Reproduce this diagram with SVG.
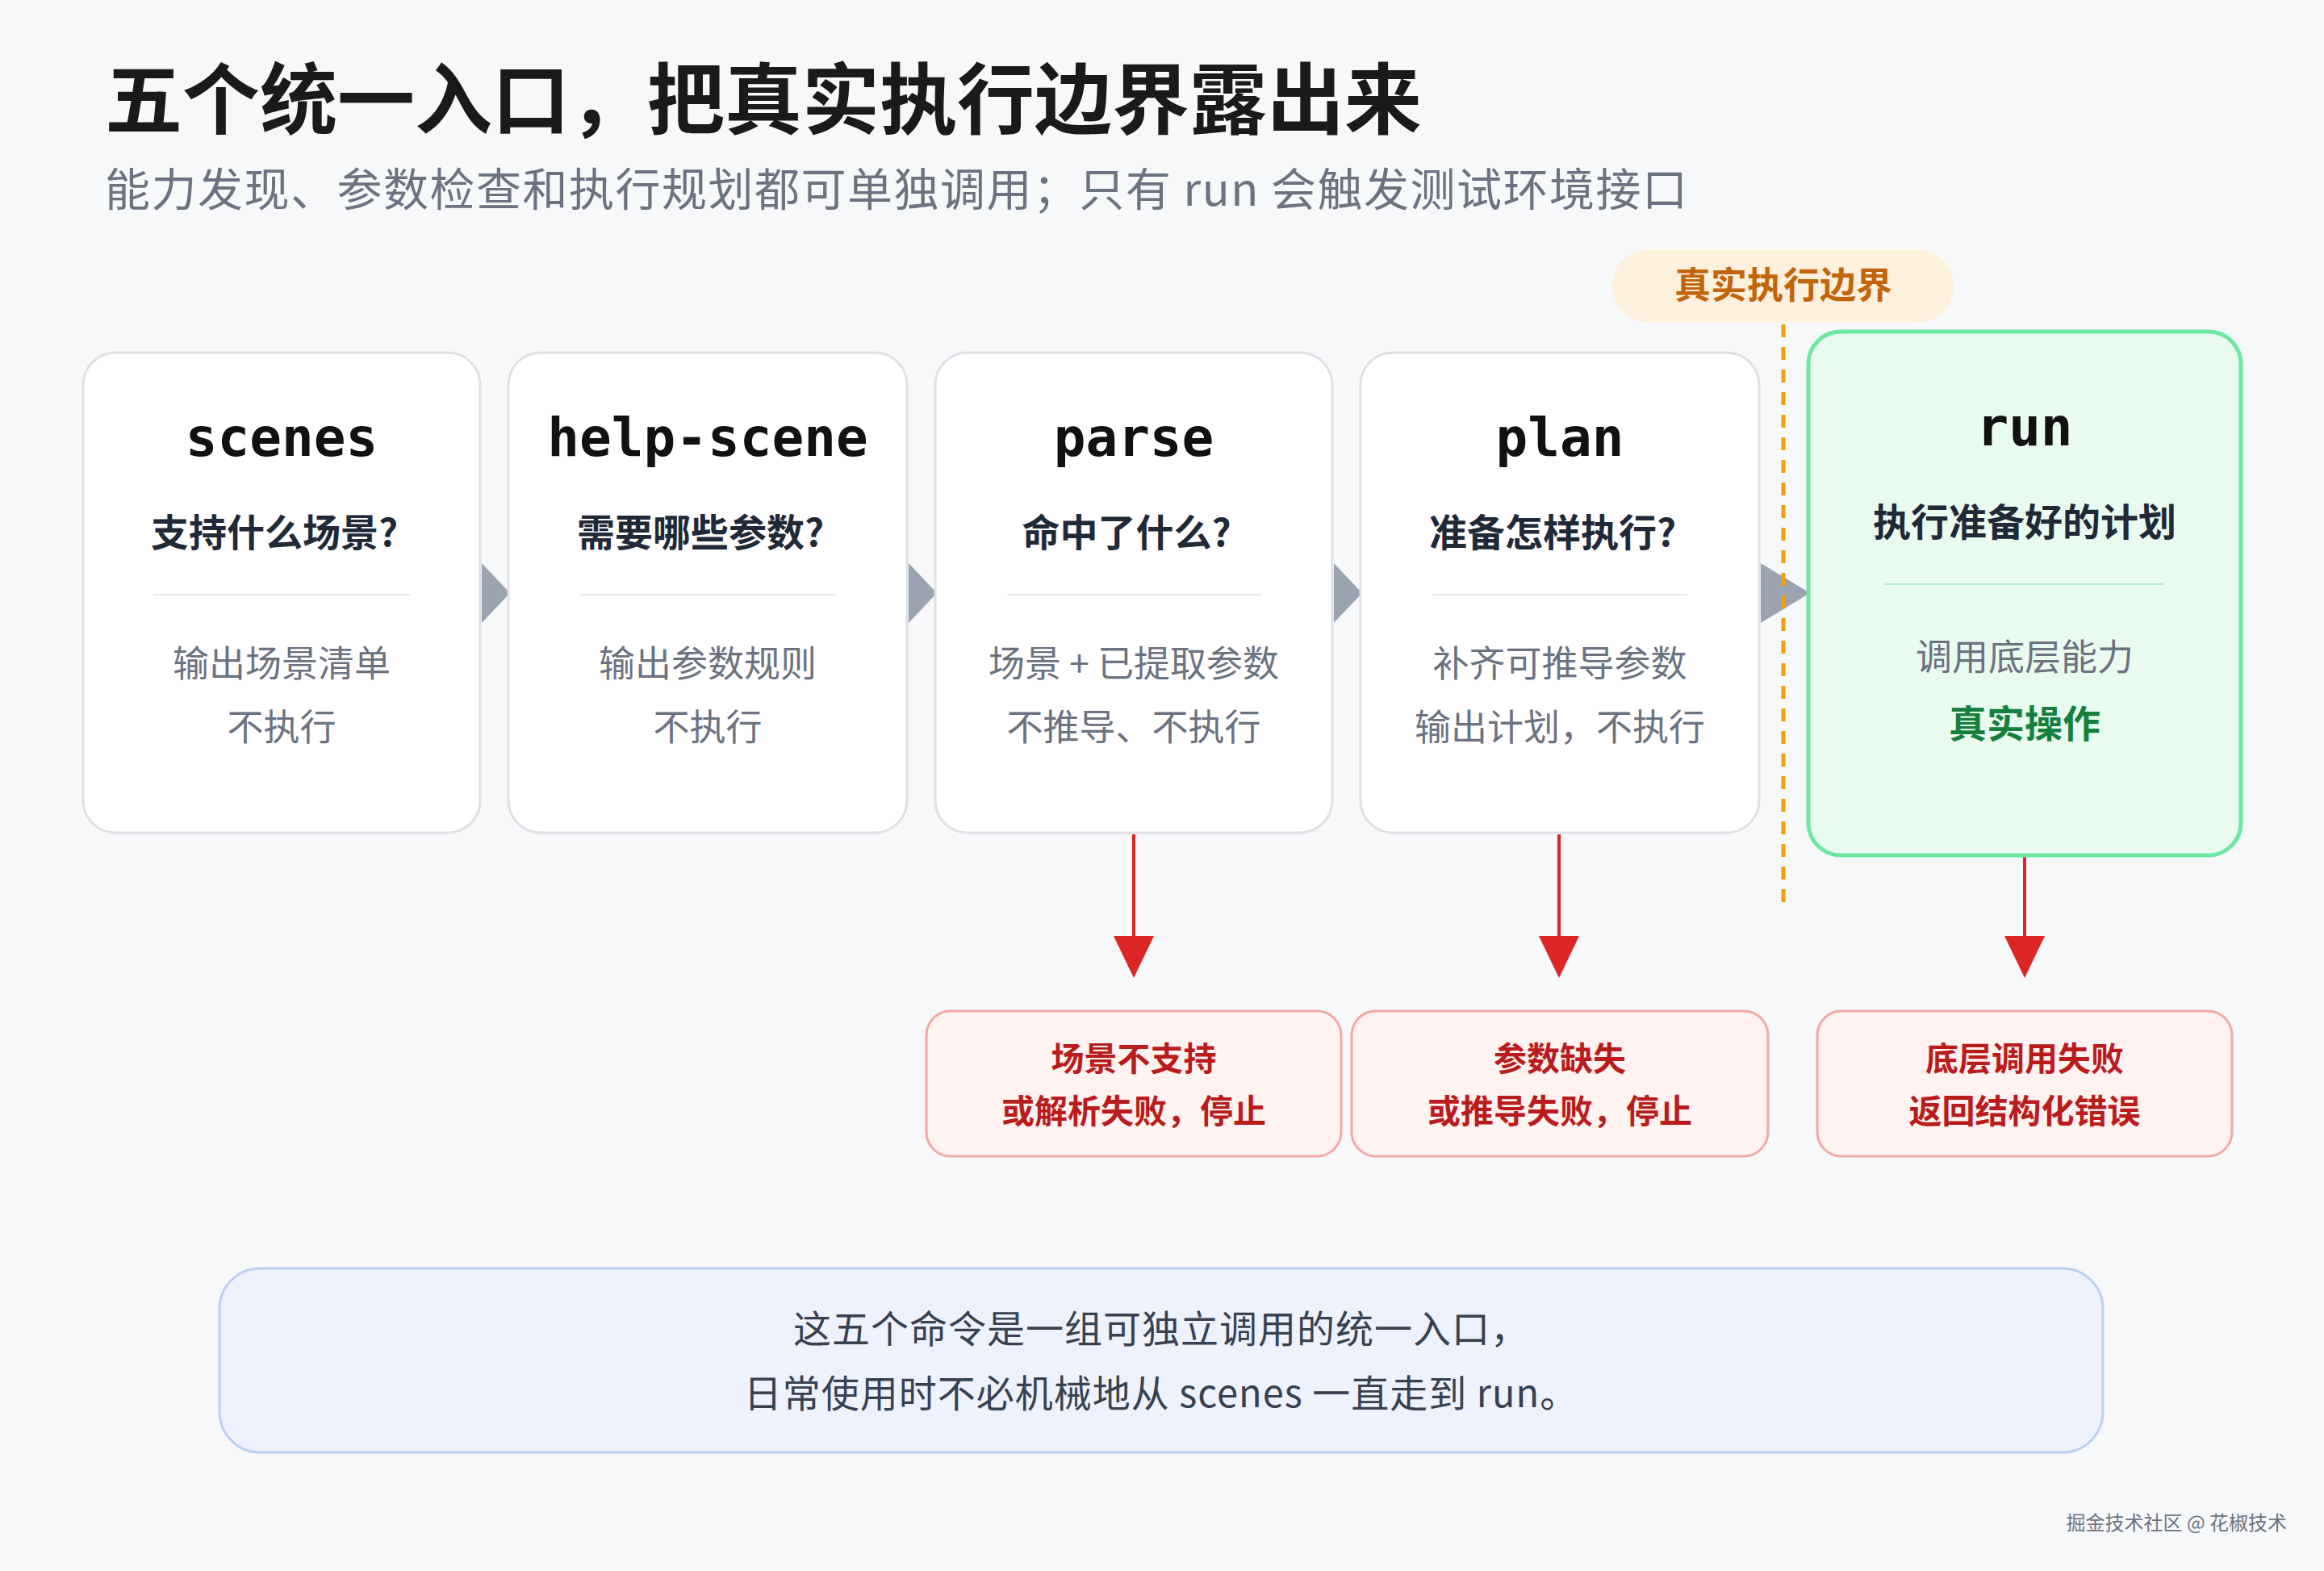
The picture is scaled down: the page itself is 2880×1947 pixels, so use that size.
<svg xmlns="http://www.w3.org/2000/svg" width="2880" height="1947" viewBox="0 0 2880 1947">
<defs>
<style>
.t{font-family:"Noto Sans CJK SC","Noto Sans",sans-serif}
.card{fill:#fff;stroke:#dde0e5;stroke-width:3}
.cmd{font-family:"DejaVu Sans Mono","Liberation Mono",monospace;font-weight:bold;font-size:66px;fill:#111;text-anchor:middle}
.q{font-family:"Noto Sans CJK SC",sans-serif;font-weight:bold;font-size:47px;fill:#1f2937;text-anchor:middle}
.g{fill:#15803d}
.d{font-family:"Noto Sans CJK SC",sans-serif;font-size:45px;fill:#6b7280;text-anchor:middle}
.div{stroke:#e5e7eb;stroke-width:2}
.err{fill:#fff3f2;stroke:#f3a9a3;stroke-width:3}
.et{font-family:"Noto Sans CJK SC",sans-serif;font-weight:bold;font-size:41px;fill:#b91c1c;text-anchor:middle}
.ra{stroke:#dc2626;stroke-width:4;fill:none}
</style>
</defs>
<rect width="2880" height="1947" fill="#f7f8fa"/>
<text class="t" x="130" y="158" font-size="96" font-weight="bold" fill="#1a1a1a">五个统一入口，把真实执行边界露出来</text>
<text class="t" x="130" y="255" font-size="56" letter-spacing="1.5" fill="#6b7280">能力发现、参数检查和执行规划都可单独调用；只有 run 会触发测试环境接口</text>

<g id="connectors">
<path d="M597,698L632,735L597,772z" fill="#9aa3b0"/>
<path d="M1126,698L1161,735L1126,772z" fill="#9aa3b0"/>
<path d="M1653,698L1688,735L1653,772z" fill="#9aa3b0"/>
<path d="M2182,698L2243,735L2182,772z" fill="#9aa3b0"/>
<line x1="2210" y1="402" x2="2210" y2="1120" stroke="#f59e0b" stroke-width="5" stroke-dasharray="16,12"/>
<line class="ra" x1="1405" y1="1034" x2="1405" y2="1160"/>
<path d="M1380,1160L1430,1160L1405,1212z" fill="#dc2626"/>
<line class="ra" x1="1932" y1="1034" x2="1932" y2="1160"/>
<path d="M1907,1160L1957,1160L1932,1212z" fill="#dc2626"/>
<line class="ra" x1="2509" y1="1062" x2="2509" y2="1160"/>
<path d="M2484,1160L2534,1160L2509,1212z" fill="#dc2626"/>
</g>

<g id="boundary">
<rect x="1998" y="309" width="423" height="91" rx="45" fill="#fdf1de"/>
<text class="t" x="2210" y="370" font-size="45" font-weight="bold" fill="#c2650a" text-anchor="middle">真实执行边界</text>
</g>

<g id="scenes">
<rect class="card" x="103" y="437" width="492" height="595" rx="40"/>
<text class="cmd" x="349" y="565">scenes</text>
<text class="q" x="340" y="677">支持什么场景?</text>
<line class="div" x1="190" y1="737" x2="508" y2="737"/>
<text class="d" x="349" y="839">输出场景清单</text>
<text class="d" x="349" y="918">不执行</text>
</g>
<g id="help-scene">
<rect class="card" x="630" y="437" width="494" height="595" rx="40"/>
<text class="cmd" x="877" y="565">help-scene</text>
<text class="q" x="868" y="677">需要哪些参数?</text>
<line class="div" x1="718" y1="737" x2="1036" y2="737"/>
<text class="d" x="877" y="839">输出参数规则</text>
<text class="d" x="877" y="918">不执行</text>
</g>
<g id="parse">
<rect class="card" x="1159" y="437" width="492" height="595" rx="40"/>
<text class="cmd" x="1405" y="565">parse</text>
<text class="q" x="1396" y="677">命中了什么?</text>
<line class="div" x1="1248" y1="737" x2="1564" y2="737"/>
<text class="d" x="1405" y="839">场景 + 已提取参数</text>
<text class="d" x="1405" y="918">不推导、不执行</text>
</g>
<g id="plan">
<rect class="card" x="1686" y="437" width="494" height="595" rx="40"/>
<text class="cmd" x="1933" y="565">plan</text>
<text class="q" x="1924" y="677">准备怎样执行?</text>
<line class="div" x1="1775" y1="737" x2="2091" y2="737"/>
<text class="d" x="1933" y="839">补齐可推导参数</text>
<text class="d" x="1933" y="918">输出计划，不执行</text>
</g>
<g id="run">
<rect x="2241" y="411" width="536" height="649" rx="40" fill="#e9fbef" stroke="#6ee7a0" stroke-width="5"/>
<text class="cmd" x="2509" y="552">run</text>
<text class="q" x="2509" y="664">执行准备好的计划</text>
<line x1="2336" y1="724" x2="2682" y2="724" stroke="#b7e8c8" stroke-width="2"/>
<text class="d" x="2509" y="831">调用底层能力</text>
<text class="q g" x="2509" y="914">真实操作</text>
</g>

<g id="err1">
<rect class="err" x="1148" y="1253" width="514" height="180" rx="30"/>
<text class="et" x="1405" y="1327">场景不支持</text>
<text class="et" x="1405" y="1392">或解析失败，停止</text>
</g>
<g id="err2">
<rect class="err" x="1675" y="1253" width="516" height="180" rx="30"/>
<text class="et" x="1933" y="1327">参数缺失</text>
<text class="et" x="1933" y="1392">或推导失败，停止</text>
</g>
<g id="err3">
<rect class="err" x="2252" y="1253" width="514" height="180" rx="30"/>
<text class="et" x="2509" y="1327">底层调用失败</text>
<text class="et" x="2509" y="1392">返回结构化错误</text>
</g>

<g id="note">
<rect x="272" y="1572" width="2334" height="228" rx="50" fill="#edf2fc" stroke="#bcd0f3" stroke-width="3"/>
<text class="t" x="1439" y="1664" font-size="47" letter-spacing="1" fill="#374151" text-anchor="middle">这五个命令是一组可独立调用的统一入口，</text>
<text class="t" x="1439" y="1744" font-size="47" letter-spacing="1" fill="#374151" text-anchor="middle">日常使用时不必机械地从 scenes 一直走到 run。</text>
</g>
<text class="t" x="2834" y="1896" font-size="24" fill="#6b7280" text-anchor="end">掘金技术社区 @ 花椒技术</text>
</svg>
